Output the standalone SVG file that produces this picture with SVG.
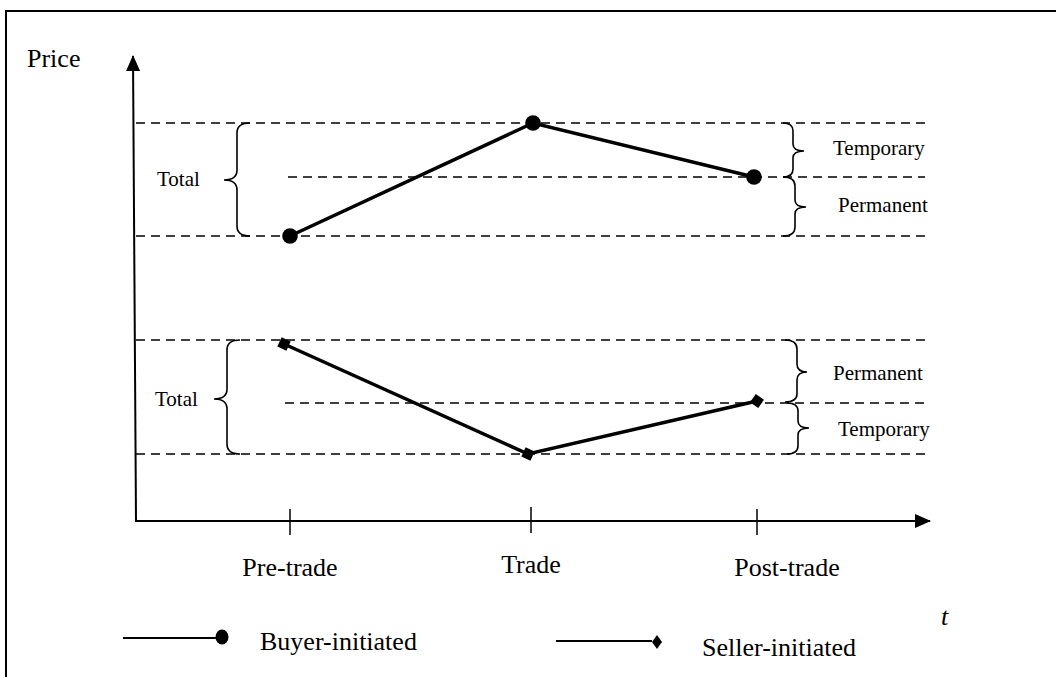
<svg xmlns="http://www.w3.org/2000/svg" width="1056" height="677" viewBox="0 0 1056 677">
<style>
.t{font-family:"Liberation Serif","Times New Roman",serif;fill:#000}
.lbl{font-size:21px}
.big{font-size:26px}
.dash{stroke:#000;stroke-width:1.6;stroke-dasharray:9,6;fill:none}
.brace{stroke:#000;stroke-width:1.6;fill:none}
.data{stroke:#000;stroke-width:3.5;fill:none}
.axis{stroke:#000;stroke-width:2;fill:none}
.tick{stroke:#000;stroke-width:1.5}
</style>
<defs>
<marker id="arrBig" viewBox="0 0 16 14" refX="15" refY="7" markerWidth="16" markerHeight="14" markerUnits="userSpaceOnUse" orient="auto">
<path d="M0,0 L16,7 L0,14 z" fill="#000"/>
</marker>
</defs>
<rect x="6" y="11" width="1200" height="800" fill="none" stroke="#000" stroke-width="2"/>
<g id="axes">
<line class="axis" x1="136" y1="521" x2="133" y2="56" marker-end="url(#arrBig)"/>
<line class="axis" x1="135" y1="521" x2="930" y2="521" marker-end="url(#arrBig)"/>
<line class="tick" x1="290" y1="509" x2="290" y2="535"/>
<line class="tick" x1="531" y1="507" x2="531" y2="533"/>
<line class="tick" x1="757" y1="509" x2="757" y2="535"/>
<text class="t big" x="27" y="67">Price</text>
<text class="t big" x="290" y="576" text-anchor="middle">Pre-trade</text>
<text class="t big" x="531" y="573" text-anchor="middle">Trade</text>
<text class="t big" x="787" y="576" text-anchor="middle">Post-trade</text>
<text class="t big" x="941" y="625" font-style="italic">t</text>
</g>
<g id="guides">
<line class="dash" x1="136" y1="123" x2="925" y2="123"/>
<line class="dash" x1="288" y1="177" x2="925" y2="177"/>
<line class="dash" x1="136" y1="236" x2="925" y2="236"/>
<line class="dash" x1="136" y1="340" x2="928" y2="340"/>
<line class="dash" x1="285" y1="403" x2="925" y2="403"/>
<line class="dash" x1="136" y1="454" x2="928" y2="454"/>
</g>
<g id="brace-total-buyer">
<path class="brace" d="M250,123 Q237,123 237,133 L237,170 Q237,180 224,180 Q237,180 237,190 L237,226 Q237,236 250,236"/>
<text class="t lbl" x="157" y="186">Total</text>
</g>
<g id="brace-temp-buyer">
<path class="brace" d="M783,123 Q793,123 793,131 L793,144 Q793,151 804,151 Q793,151 793,158 L793,169 Q793,177 783,177"/>
<text class="t lbl" x="833" y="155">Temporary</text>
</g>
<g id="brace-perm-buyer">
<path class="brace" d="M783,177 Q795,177 795,186 L795,200 Q795,207 806,207 Q795,207 795,214 L795,227 Q795,236 783,236"/>
<text class="t lbl" x="838" y="212">Permanent</text>
</g>
<g id="brace-total-seller">
<path class="brace" d="M240,340 Q227,340 227,350 L227,389 Q227,399 214,399 Q227,399 227,409 L227,444 Q227,454 240,454"/>
<text class="t lbl" x="155" y="406">Total</text>
</g>
<g id="brace-perm-seller">
<path class="brace" d="M785,340 Q797,340 797,349 L797,364 Q797,372 807,372 Q797,372 797,380 L797,394 Q797,402 785,402"/>
<text class="t lbl" x="833" y="380">Permanent</text>
</g>
<g id="brace-temp-seller">
<path class="brace" d="M787,403 Q798,403 798,411 L798,421 Q798,428 809,428 Q798,428 798,435 L798,446 Q798,454 787,454"/>
<text class="t lbl" x="838" y="436">Temporary</text>
</g>
<g id="connectors">
<polyline class="data" points="290,236 533,123 754,177"/>
<polyline class="data" points="284,344 528,454 757,401"/>
</g>
<g id="buyer-pre"><circle cx="290" cy="236" r="7.8"/></g>
<g id="buyer-trade"><circle cx="533" cy="123" r="7.8"/></g>
<g id="buyer-post"><circle cx="754" cy="177" r="7.8"/></g>
<g id="seller-pre"><rect x="279" y="339" width="10" height="10" transform="rotate(25 284 344)"/></g>
<g id="seller-trade"><rect x="523" y="449" width="10" height="10" transform="rotate(25 528 454)"/></g>
<g id="seller-post"><rect x="752" y="396" width="10" height="10" transform="rotate(35 757 401)"/></g>
<g id="legend">
<line x1="123" y1="638" x2="218" y2="638" stroke="#000" stroke-width="2"/>
<ellipse cx="222" cy="637" rx="6.5" ry="7.5"/>
<text class="t big" x="260" y="650">Buyer-initiated</text>
<line x1="556" y1="641" x2="652" y2="641" stroke="#000" stroke-width="2"/>
<path d="M657,635 L662,642 L657,649 L652,642 z"/>
<text class="t big" x="702" y="656">Seller-initiated</text>
</g>
</svg>
